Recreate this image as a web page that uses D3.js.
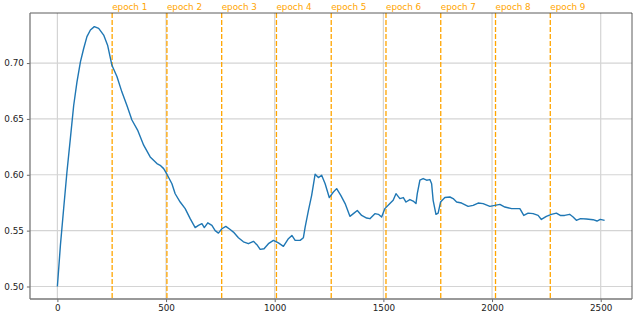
<!DOCTYPE html>
<html lang="en">
<head>
<meta charset="UTF-8">
<title>Training curve</title>
<script src="https://cdn.jsdelivr.net/npm/d3@7"></script>
<style>
  body { margin: 0; background: #fff; }
  svg { display: block; font-family: "DejaVu Sans", sans-serif; }
  .grid line { stroke: #d4d4d4; stroke-width: 1.2; }
  .epoch { stroke: #ffa500; stroke-width: 1.3; stroke-dasharray: 4.9,2.1; }
  .epoch-label { fill: #ffa500; font-size: 8.8px; }
</style>
</head>
<body>
<svg width="636" height="316"></svg>
<script>
// values
const steps = [0, 14, 29, 44, 60, 75, 90, 106, 121, 136, 152, 170, 190, 213, 231, 251, 274, 297, 320, 343,
  369, 397, 427, 458, 473, 489, 504, 527, 542, 565, 588, 611, 634, 649, 665, 676, 692, 711, 726, 741,
  757, 775, 795, 810, 833, 856, 879, 902, 918, 933, 951, 971, 994, 1017, 1040, 1063, 1079, 1094, 1117, 1132,
  1140, 1155, 1170, 1186, 1201, 1216, 1232, 1251, 1270, 1285, 1304, 1324, 1346, 1362, 1380, 1400, 1423, 1438, 1461, 1477,
  1492, 1507, 1530, 1545, 1558, 1576, 1592, 1604, 1622, 1637, 1650, 1656, 1668, 1683, 1699, 1714, 1722, 1729, 1742, 1752,
  1763, 1783, 1806, 1821, 1837, 1860, 1890, 1913, 1936, 1959, 1990, 2013, 2036, 2059, 2090, 2128, 2146, 2166, 2189, 2212,
  2227, 2250, 2273, 2296, 2314, 2334, 2357, 2373, 2388, 2407, 2434, 2465, 2483, 2498, 2518];
const accuracy = [0.500, 0.537, 0.570, 0.6025, 0.633, 0.662, 0.683, 0.701, 0.713, 0.7236, 0.7296, 0.7326, 0.731, 0.725, 0.716, 0.698, 0.688, 0.674, 0.662, 0.649,
  0.640, 0.6265, 0.616, 0.610, 0.6085, 0.6055, 0.6005, 0.592, 0.583, 0.5756, 0.5697, 0.5607, 0.5527, 0.5547, 0.5562, 0.5527, 0.557, 0.5547, 0.550, 0.5478,
  0.5517, 0.5538, 0.551, 0.5487, 0.5437, 0.540, 0.5383, 0.5404, 0.5374, 0.5332, 0.5338, 0.5383, 0.5413, 0.539, 0.5359, 0.5428, 0.5457, 0.5413, 0.5413, 0.5437,
  0.5532, 0.568, 0.5816, 0.6005, 0.5975, 0.5996, 0.592, 0.5796, 0.5846, 0.5876, 0.5816, 0.5742, 0.5628, 0.5652, 0.568, 0.5636, 0.5613, 0.5607, 0.5652, 0.5646,
  0.5622, 0.5697, 0.5742, 0.5771, 0.5831, 0.5787, 0.5796, 0.5756, 0.5778, 0.5765, 0.5742, 0.5831, 0.5951, 0.5966, 0.5951, 0.5957, 0.592, 0.5771, 0.5646, 0.5657,
  0.5756, 0.5796, 0.5801, 0.5787, 0.5756, 0.5747, 0.5717, 0.5726, 0.5747, 0.5742, 0.5717, 0.5726, 0.5735, 0.5711, 0.5697, 0.5697, 0.5636, 0.5657, 0.5652, 0.5636,
  0.560, 0.5628, 0.5646, 0.5657, 0.5636, 0.5636, 0.5646, 0.5622, 0.5592, 0.5607, 0.5604, 0.5598, 0.5586, 0.5601, 0.5592];
const epochSteps = [252, 504, 756, 1008, 1260, 1512, 1764, 2016, 2268];
const epochLabels = ["epoch 1", "epoch 2", "epoch 3", "epoch 4", "epoch 5", "epoch 6", "epoch 7", "epoch 8", "epoch 9"];
const xTicks = [0, 500, 1000, 1500, 2000, 2500];
const yTicks = [0.50, 0.55, 0.60, 0.65, 0.70];

const margin = {top: 13, right: 4, bottom: 17, left: 30};
const svg = d3.select("svg");
const width = +svg.attr("width") - margin.left - margin.right;
const height = +svg.attr("height") - margin.top - margin.bottom;

const g = svg.append("g").attr("transform", `translate(${margin.left},${margin.top})`);

const x = d3.scaleLinear().domain([-126, 2644]).range([0, width]);
const y = d3.scaleLinear().domain([0.4888, 0.7448]).range([height, 0]);

// grid
g.append("g").attr("class", "grid")
  .selectAll("line").data(xTicks).enter().append("line")
  .attr("x1", d => x(d)).attr("x2", d => x(d)).attr("y1", 0).attr("y2", height);
g.append("g").attr("class", "grid")
  .selectAll("line").data(yTicks).enter().append("line")
  .attr("x1", 0).attr("x2", width).attr("y1", d => y(d)).attr("y2", d => y(d));

// epoch markers
g.selectAll(".epoch").data(epochSteps).enter().append("line")
  .attr("class", "epoch")
  .attr("x1", d => x(d)).attr("x2", d => x(d)).attr("y1", 0).attr("y2", height);
g.selectAll(".epoch-label").data(epochSteps).enter().append("text")
  .attr("class", "epoch-label")
  .attr("x", d => x(d)).attr("y", -3)
  .text((d, i) => epochLabels[i]);

// curve
const line = d3.line().x((d, i) => x(steps[i])).y(d => y(d));
g.append("path").datum(accuracy)
  .attr("fill", "none").attr("stroke", "#1f77b4").attr("stroke-width", 1.4)
  .attr("stroke-linejoin", "round")
  .attr("d", line);

// axes
const xAxis = g.append("g").attr("transform", `translate(0,${height})`)
  .call(d3.axisBottom(x).tickValues(xTicks).tickSize(3.1).tickPadding(3).tickFormat(d3.format("d")));
const yAxis = g.append("g")
  .call(d3.axisLeft(y).tickValues(yTicks).tickSize(3.1).tickPadding(3).tickFormat(d3.format(".2f")));
[xAxis, yAxis].forEach(a => {
  a.select(".domain").remove();
  a.selectAll(".tick line").attr("stroke", "#444").attr("stroke-width", 0.8);
  a.selectAll(".tick text").attr("font-family", "DejaVu Sans").attr("font-size", 8.8).attr("fill", "#222");
});

// frame: top/right thin dark, left/bottom grey
g.append("line").attr("x1", 0).attr("x2", width).attr("y1", 0).attr("y2", 0)
  .attr("stroke", "#333").attr("stroke-width", 0.8);
g.append("line").attr("x1", width).attr("x2", width).attr("y1", 0).attr("y2", height)
  .attr("stroke", "#333").attr("stroke-width", 0.8);
g.append("line").attr("x1", 0).attr("x2", 0).attr("y1", 0).attr("y2", height)
  .attr("stroke", "#777").attr("stroke-width", 1.3);
g.append("line").attr("x1", 0).attr("x2", width).attr("y1", height).attr("y2", height)
  .attr("stroke", "#777").attr("stroke-width", 1.3);
</script>
</body>
</html>
